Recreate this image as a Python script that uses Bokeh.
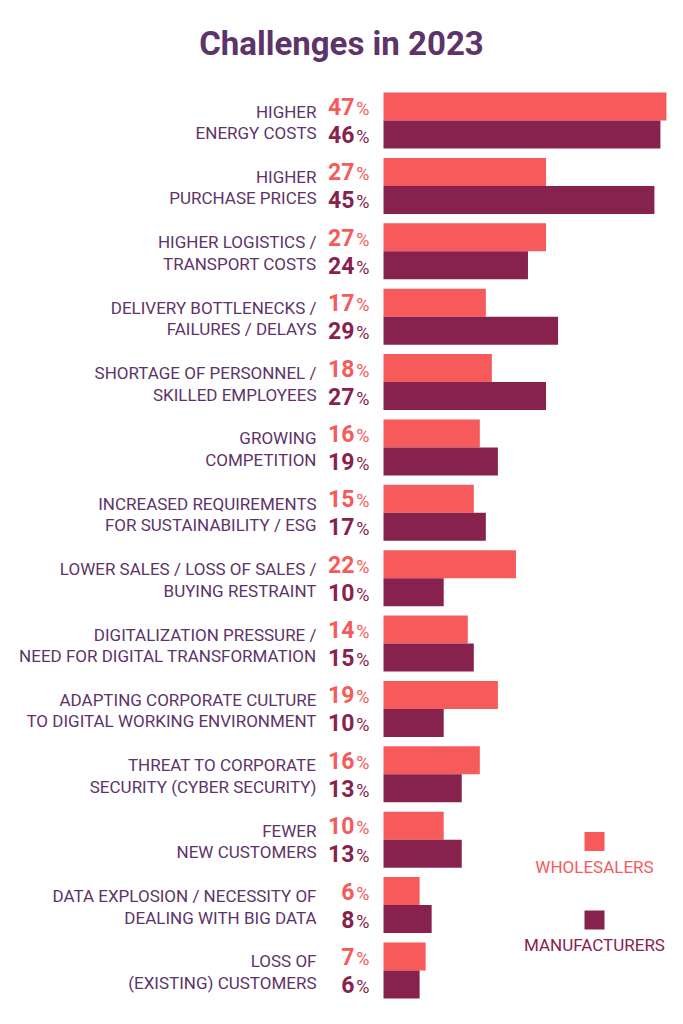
from bokeh.plotting import figure
from bokeh.models import Range1d, ColumnDataSource
from bokeh.core.properties import value
from bokeh.embed import file_html
from bokeh.resources import INLINE

categories = [
    "HIGHER\nENERGY COSTS",
    "HIGHER\nPURCHASE PRICES",
    "HIGHER LOGISTICS /\nTRANSPORT COSTS",
    "DELIVERY BOTTLENECKS /\nFAILURES / DELAYS",
    "SHORTAGE OF PERSONNEL /\nSKILLED EMPLOYEES",
    "GROWING\nCOMPETITION",
    "INCREASED REQUIREMENTS\nFOR SUSTAINABILITY / ESG",
    "LOWER SALES / LOSS OF SALES /\nBUYING RESTRAINT",
    "DIGITALIZATION PRESSURE /\nNEED FOR DIGITAL TRANSFORMATION",
    "ADAPTING CORPORATE CULTURE\nTO DIGITAL WORKING ENVIRONMENT",
    "THREAT TO CORPORATE\nSECURITY (CYBER SECURITY)",
    "FEWER\nNEW CUSTOMERS",
    "DATA EXPLOSION / NECESSITY OF\nDEALING WITH BIG DATA",
    "LOSS OF\n(EXISTING) CUSTOMERS",
]
wholesalers = [47, 27, 27, 17, 18, 16, 15, 22, 14, 19, 16, 10, 6, 7]
manufacturers = [46, 45, 24, 29, 27, 19, 17, 10, 15, 10, 13, 13, 8, 6]
series_names = ["WHOLESALERS", "MANUFACTURERS"]
title_text = "Challenges in 2023"

CORAL = "#F65A5A"
MAROON = "#87224F"
PURPLE = "#5D3469"
FONT = value("Roboto")

W, H = 680, 1010
PX_PER_PCT = 6.02
BAR_X0 = 383.0          # pixel of 0% inside canvas
GROUP_PX = 65.38
TOP_PX = 120.0          # pixel of first group's center inside canvas

x_start = -BAR_X0 / PX_PER_PCT
x_end = (W - BAR_X0) / PX_PER_PCT
y_top = -TOP_PX / GROUP_PX
y_bottom = y_top + H / GROUP_PX

p = figure(width=W, height=H, output_backend="svg", toolbar_location=None,
           x_range=Range1d(x_start, x_end), y_range=Range1d(y_bottom, y_top),
           x_axis_location=None, y_axis_location=None, min_border=0,
           background_fill_color="white", border_fill_color="white")
p.outline_line_color = None
p.grid.visible = False

n = len(categories)
idx = list(range(n))
half = 14.0 / GROUP_PX
line1 = [c.split("\n")[0] for c in categories]
line2 = [c.split("\n")[1] for c in categories]

src = ColumnDataSource(dict(
    yw=[i - half for i in idx], ym=[i + half for i in idx],
    w=wholesalers, m=manufacturers,
    wt=[str(v) for v in wholesalers], mt=[str(v) for v in manufacturers],
    pct=["%"] * n,
    l1=line1, l2=line2,
    y1=[i - 9.0 / GROUP_PX for i in idx], y2=[i + 12.5 / GROUP_PX for i in idx],
    x0=[0] * n,
))

p.hbar(y="yw", left=0, right="w", height=2 * half, source=src,
       fill_color=CORAL, line_color=None)
p.hbar(y="ym", left=0, right="m", height=2 * half, source=src,
       fill_color=MAROON, line_color=None)

# values
for ycol, tcol, col in (("yw", "wt", CORAL), ("ym", "mt", MAROON)):
    p.text(x="x0", y=ycol, text=tcol, source=src, x_offset=-29,
           text_align="right", text_baseline="middle", text_font=FONT,
           text_font_size="23px", text_font_style="bold", text_color=col)
    p.text(x="x0", y=ycol, text="pct", source=src, x_offset=-14, y_offset=2,
           text_align="right", text_baseline="middle", text_font=FONT,
           text_font_size="18px", text_color=col)

# category labels
for ycol, tcol in (("y1", "l1"), ("y2", "l2")):
    p.text(x="x0", y=ycol, text=tcol, source=src, x_offset=-67,
           text_align="right", text_baseline="middle", text_font=FONT,
           text_font_size="17px", text_color=PURPLE)

# title
p.text(x=[(341 - BAR_X0) / PX_PER_PCT], y=[y_top + 43 / GROUP_PX],
       text=[title_text], text_align="center", text_baseline="middle",
       text_font=FONT, text_font_size="33px", text_font_style="bold",
       text_color=PURPLE)

# legend
lx = (594 - BAR_X0) / PX_PER_PCT
leg_sq_y = [y_top + 841 / GROUP_PX, y_top + 919.5 / GROUP_PX]
leg_tx_y = [y_top + 866 / GROUP_PX, y_top + 944.5 / GROUP_PX]
p.rect(x=[lx, lx], y=leg_sq_y, width=20, height=19, width_units="screen",
       height_units="screen", fill_color=[CORAL, MAROON], line_color=None)
p.text(x=[lx, lx], y=leg_tx_y, text=series_names, text_align="center",
       text_baseline="middle", text_font=FONT, text_font_size="17px",
       text_color=[CORAL, MAROON])

open("out.html", "w").write(file_html(p, INLINE))
